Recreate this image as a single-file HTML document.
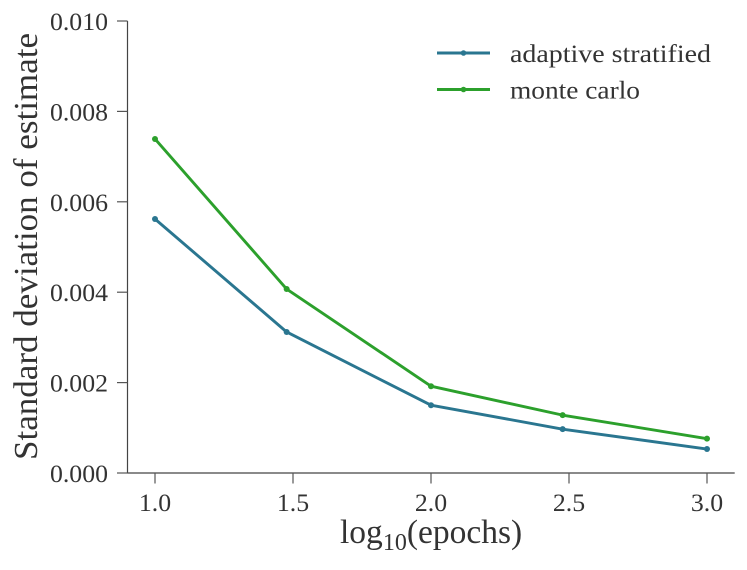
<!DOCTYPE html>
<html>
<head>
<meta charset="utf-8">
<style>
html,body{margin:0;padding:0;background:#fff;width:747px;height:570px;overflow:hidden}
svg{display:block}
text{font-family:"Liberation Serif",serif;fill:#333}
</style>
</head>
<body>
<svg id="chart" width="747" height="570" viewBox="0 0 747 570" xmlns="http://www.w3.org/2000/svg">
<text transform="translate(37 246.5) rotate(-90)" text-anchor="middle" font-size="33.5" textLength="427" lengthAdjust="spacingAndGlyphs">Standard deviation of estimate</text>
<text x="340" y="543" font-size="33.5">log<tspan font-size="24" dy="7">10</tspan><tspan dy="-7">(epochs)</tspan></text>
<g id="plot"></g>
</svg>
<script>
const xValues = [1, 1.477, 2, 2.477, 3];
const adaptiveStratified = [0.00562, 0.00312, 0.0015, 0.00097, 0.00053];
const monteCarlo = [0.00739, 0.00407, 0.00192, 0.00128, 0.00076];
const xTickValues = [1, 1.5, 2, 2.5, 3];
const xTickLabels = ['1.0', '1.5', '2.0', '2.5', '3.0'];
const yTickValues = [0, 0.002, 0.004, 0.006, 0.008, 0.01];
const yTickLabels = ['0.000', '0.002', '0.004', '0.006', '0.008', '0.010'];
const legendLabels = ['adaptive stratified', 'monte carlo'];

const NS = 'http://www.w3.org/2000/svg';
const plot = document.getElementById('plot');
const xScale = v => 155 + (v - 1) * 276;
const yScale = v => 473 - v * 45200;

function mk(tag, attrs, text) {
  const el = document.createElementNS(NS, tag);
  for (const k in attrs) el.setAttribute(k, attrs[k]);
  if (text !== undefined) el.textContent = text;
  plot.appendChild(el);
  return el;
}

const spineY = mk('line', {x1: 127.5, x2: 127.5, y1: yScale(0.01), y2: yScale(0), stroke: '#444', 'stroke-width': 1.2});


const spineX = mk('line', {x1: 127.5, x2: 734.7, y1: yScale(0), y2: yScale(0), stroke: '#444', 'stroke-width': 1.2});



xTickValues.forEach((v, i) => {
  const t = mk('line', {x1: xScale(v), x2: xScale(v), y1: 473, y2: 483.5, stroke: '#555', 'stroke-width': 1.2});
  
  
  const l = mk('text', {x: xScale(v), y: 511, 'text-anchor': 'middle', 'font-size': 25.8}, xTickLabels[i]);
  
  
});
yTickValues.forEach((v, i) => {
  const t = mk('line', {x1: 117, x2: 127.5, y1: yScale(v), y2: yScale(v), stroke: '#555', 'stroke-width': 1.2});
  
  
  const l = mk('text', {x: 108, y: yScale(v) + 9, 'text-anchor': 'end', 'font-size': 25.8}, yTickLabels[i]);
  
  
});

function drawSeries(values, color, name) {
  const pts = values.map((v, i) => xScale(xValues[i]) + ',' + yScale(v)).join(' ');
  const line = mk('polyline', {points: pts, fill: 'none', stroke: color, 'stroke-width': 2.9, 'stroke-linejoin': 'round'});
  
  
  values.forEach((v, i) => {
    const c = mk('circle', {cx: xScale(xValues[i]), cy: yScale(v), r: 3, fill: color});
    
    
  });
}
drawSeries(adaptiveStratified, '#2a7690', 'adaptive-stratified');
drawSeries(monteCarlo, '#2ca02c', 'monte-carlo');

const legendColors = ['#2a7690', '#2ca02c'];
const legendRows = [53, 89.5];
const legendWidths = [201, 130];
legendLabels.forEach((label, i) => {
  const y = legendRows[i];
  const ln = mk('line', {x1: 437, x2: 490, y1: y, y2: y, stroke: legendColors[i], 'stroke-width': 2.9});
  
  
  const d = mk('circle', {cx: 463.5, cy: y, r: 2.8, fill: legendColors[i]});
  
  
  const t = mk('text', {x: 510, y: y + 9, 'font-size': 25.5, textLength: legendWidths[i], lengthAdjust: 'spacingAndGlyphs'}, label);
  
  
});
</script>
</body>
</html>
